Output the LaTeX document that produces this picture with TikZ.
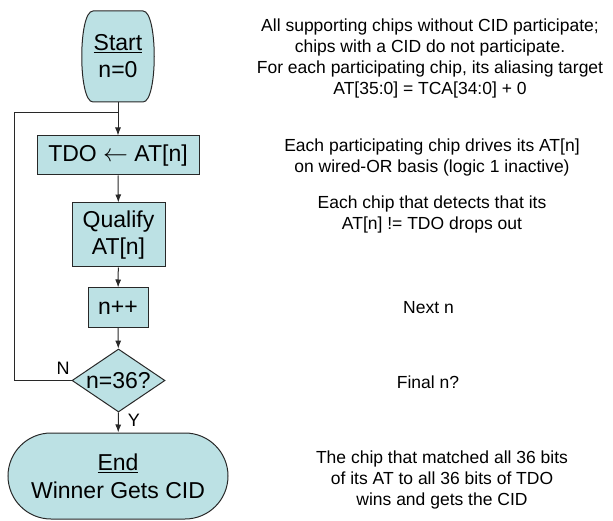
\documentclass[tikz,border=0pt]{standalone}
\usepackage{fontspec}
\setmainfont{Liberation Sans}
\usetikzlibrary{shapes.geometric,arrows.meta}
\definecolor{boxfill}{RGB}{188,225,228}
\definecolor{edge}{RGB}{40,40,40}
\begin{document}
\begin{tikzpicture}[x=1pt,y=-1pt,
  flow/.style={draw=edge,line width=1pt,fill=boxfill,inner sep=0pt,align=center,font=\fontsize{23}{27}\selectfont},
  procbox/.style={flow,rectangle},
  note/.style={align=center,font=\fontsize{17.5}{21}\selectfont,inner sep=0pt},
  lbl/.style={font=\fontsize{18}{21}\selectfont,inner sep=0pt},
  conn/.style={draw=edge,line width=1pt},
  arr/.style={conn,-{Latex[length=8pt,width=6pt]}}]
\useasboundingbox (0,0) rectangle (613,521);
% flow chart
\draw[draw=edge,line width=1pt,fill=boxfill] (93,11) -- (143,11) .. controls (158,11) and (158,102) .. (143,102) -- (93,102) .. controls (78,102) and (78,11) .. (93,11) -- cycle;
\node[inner sep=0pt,align=center,font=\fontsize{23}{27}\selectfont,minimum width=74pt,minimum height=91pt] (start) at (118,56.5) {\underline{Start}\\n=0};
\node[procbox,minimum width=162pt,minimum height=39pt] (tdo) at (118,155.5) {TDO $\leftarrow$ AT[n]};
\node[procbox,minimum width=93pt,minimum height=64pt] (qual) at (118.5,235) {Qualify\\AT[n]};
\node[procbox,minimum width=60pt,minimum height=39pt] (inc) at (118,307.5) {n++};
\node[flow,diamond,aspect=1.476,minimum width=93pt,minimum height=63pt] (dec) at (118.5,380.5) {n=36?};
\node[flow,rounded corners=43pt,minimum width=220pt,minimum height=86pt,font=\fontsize{23}{28}\selectfont] (end) at (118,476) {\underline{End}\\Winner Gets CID};
\coordinate (join) at (118,113);
\coordinate (lb) at (14,380.5);
\coordinate (lt) at (14,113);
% connectors
\draw[arr] (start) -- (tdo);
\draw[arr] (tdo) -- (qual);
\draw[arr] (qual) -- (inc);
\draw[arr] (inc) -- (dec);
\draw[arr] (dec) -- (end);
\draw[conn] (dec.west) -- (lb) -- (lt) -- (join);
\node[lbl] (nlab) at (63,368) {N};
\node[lbl] (ylab) at (134,420) {Y};
% notes
\node[note] (n1) at (430,58) {All supporting chips without CID participate;\\chips with a CID do not participate.\\For each participating chip, its aliasing target\\AT[35:0] = TCA[34:0] + 0};
\node[note] (n2) at (432,157) {Each participating chip drives its AT[n]\\on wired-OR basis (logic 1 inactive)};
\node[note] (n3) at (432,214) {Each chip that detects that its\\AT[n] != TDO drops out};
\node[note] (n4) at (428.5,308) {Next n};
\node[note] (n5) at (428,382) {Final n?};
\node[note] (n6) at (442,480) {The chip that matched all 36 bits\\of its AT to all 36 bits of TDO\\wins and gets the CID};
\end{tikzpicture}
\end{document}
